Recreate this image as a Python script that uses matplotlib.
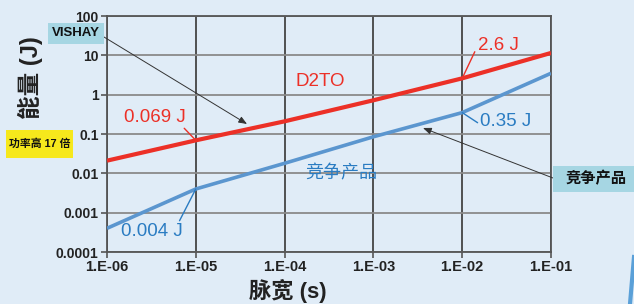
import matplotlib.pyplot as plt
from matplotlib.patches import Rectangle
from matplotlib.lines import Line2D

plt.rcParams['font.family'] = ['Liberation Sans', 'Noto Sans CJK SC', 'DejaVu Sans']

# pulse width (s) and energy (J)
pulse_width = [1e-6, 1e-5, 1e-4, 1e-3, 1e-2, 1e-1]
d2to_energy = [0.021, 0.069, 0.21, 0.72, 2.6, 11.5]
rival_energy = [0.0004, 0.004, 0.018, 0.085, 0.35, 3.5]

x_ticks = [1e-6, 1e-5, 1e-4, 1e-3, 1e-2, 1e-1]
x_labels = ["1.E-06", "1.E-05", "1.E-04", "1.E-03", "1.E-02", "1.E-01"]
y_ticks = [1e-4, 1e-3, 1e-2, 1e-1, 1, 10, 100]
y_labels = ["0.0001", "0.001", "0.01", "0.1", "1", "10", "100"]

bg = "#e0ecf7"
red = "#ec3027"
blue = "#5b96cf"
blue_txt = "#2a7cc2"
W, H = 634, 304

fig = plt.figure(figsize=(6.34, 3.04), dpi=100, facecolor=bg)
ax = fig.add_axes([107 / W, 1 - 252 / H, 444 / W, 236 / H])
ax.set_facecolor(bg)
ax.set_xscale("log")
ax.set_yscale("log")
ax.set_xlim(1e-6, 1e-1)
ax.set_ylim(1e-4, 100)

for x in x_ticks:
    ax.axvline(x, color="#444444", lw=1.3, zorder=1)
for y in y_ticks:
    ax.axhline(y, color="#8a8a8a", lw=1.3, zorder=1)

ax.plot(pulse_width, d2to_energy, color=red, lw=3, zorder=3, solid_capstyle="butt")
ax.plot(pulse_width, rival_energy, color=blue, lw=2.6, zorder=3, solid_capstyle="butt")

ax.set_xticks(x_ticks)
ax.set_xticklabels(x_labels)
ax.set_yticks(y_ticks)
ax.set_yticklabels(y_labels)
ax.minorticks_off()
ax.tick_params(labelsize=10, length=4, width=1.2, color="#555555", pad=2)
ax.tick_params(axis="x", labelsize=10.5)
for lab in ax.get_xticklabels() + ax.get_yticklabels():
    lab.set_fontweight("bold")
    lab.set_color("#222222")
for s in ax.spines.values():
    s.set_color("#555555")
    s.set_linewidth(1.3)

ax.set_xlabel("脉宽 (s)", fontsize=16, fontweight="bold", color="#222222")
ax.xaxis.set_label_coords((288 - 107) / 444, -0.115)
ax.set_ylabel("能量 (J)", fontsize=17, fontweight="bold", color="#222222")
ax.yaxis.set_label_coords((43 - 107) / 444, (252 - 78) / 236)


def fpx(x, y):
    # figure pixel position measured from top-left
    return (x, H - y)


# value annotations
lab_kw = dict(textcoords="figure pixels", fontsize=13.5, ha="center", va="center")
ax.annotate("0.069 J", xy=(pulse_width[1], d2to_energy[1]), xytext=fpx(155, 117),
            color=red, arrowprops=dict(arrowstyle="-", color=red, lw=1, shrinkA=0, shrinkB=0,
                                       relpos=(0.93, 0)), **lab_kw)
ax.annotate("2.6 J", xy=(pulse_width[4], d2to_energy[4]), xytext=fpx(498, 45),
            color=red, arrowprops=dict(arrowstyle="-", color=red, lw=1, shrinkA=0, shrinkB=0,
                                       relpos=(0.03, 0.6)), **lab_kw)
ax.annotate("0.35 J", xy=(pulse_width[4], rival_energy[4]), xytext=fpx(506, 122),
            color=blue_txt, arrowprops=dict(arrowstyle="-", color=blue_txt, lw=1, shrinkA=0,
                                            shrinkB=0, relpos=(-0.05, 0.45)), **lab_kw)
ax.annotate("0.004 J", xy=(pulse_width[1], rival_energy[1]), xytext=fpx(152, 232),
            color=blue_txt, arrowprops=dict(arrowstyle="-", color=blue_txt, lw=1, shrinkA=0,
                                            shrinkB=0, relpos=(0.93, 1.05)), **lab_kw)

fig.text(320 / W, 1 - 82 / H, "D2TO", fontsize=13.5, color=red, ha="center", va="center")
fig.text(341 / W, 1 - 174 / H, "竞争产品", fontsize=13, color=blue_txt, ha="center", va="center")

# pointer arrows
arrow_kw = dict(arrowstyle="-|>,head_length=0.5,head_width=0.2", color="#333333",
                lw=0.7, shrinkA=0, shrinkB=0)
ax.annotate("", xy=fpx(247, 124), xytext=fpx(104, 37), xycoords="figure pixels",
            textcoords="figure pixels", arrowprops=arrow_kw)
ax.annotate("", xy=fpx(423, 128), xytext=fpx(553, 178), xycoords="figure pixels",
            textcoords="figure pixels", arrowprops=arrow_kw)


def box(x0, y0, x1, y1, color, text, size):
    fig.add_artist(Rectangle((x0 / W, 1 - y1 / H), (x1 - x0) / W, (y1 - y0) / H,
                             transform=fig.transFigure, fc=color, ec="none", zorder=5))
    fig.text((x0 + x1) / 2 / W, 1 - (y0 + y1) / 2 / H, text, fontsize=size,
             fontweight="bold", color="#111111", ha="center", va="center", zorder=6)


box(48, 23, 104, 44, "#a6d6e3", "VISHAY", 9.5)
box(553, 166, 640, 192, "#a6d6e3", "竞争产品", 11)
box(6, 130, 73, 158, "#f6e81c", "功率高 17 倍", 7.8)

# decorative stroke at bottom right
fig.add_artist(Line2D([634 / W, 630 / W], [1 - 257 / H, 0], transform=fig.transFigure,
                      color="#5aa0d8", lw=3))

fig.savefig("out.png", dpi=100, facecolor=bg)
